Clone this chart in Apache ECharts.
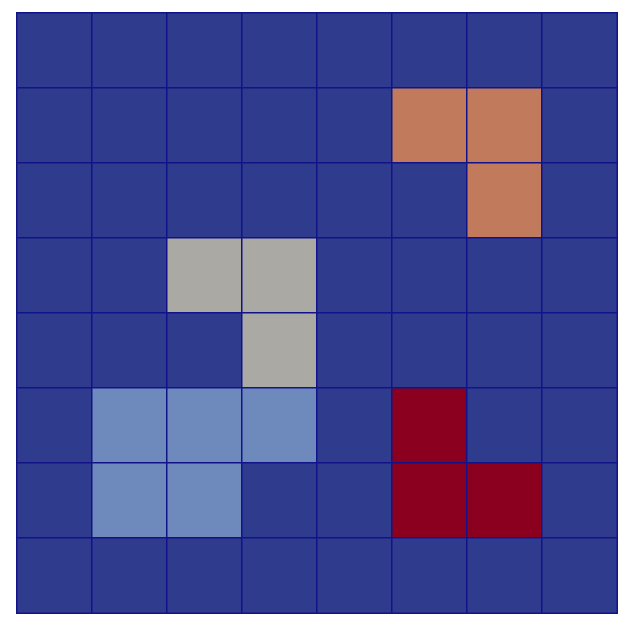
<!DOCTYPE html>
<html>
<head>
<meta charset="utf-8">
<script src="https://cdn.jsdelivr.net/npm/echarts@6/dist/echarts.min.js"></script>
<style>html,body{margin:0;padding:0;background:#fff;}#c{width:635px;height:627px;}</style>
</head>
<body>
<div id="c"></div>
<script>
const xCats = ['0','1','2','3','4','5','6','7'];
const yCats = ['0','1','2','3','4','5','6','7'];
// grid values, row 0 = top row
const row0 = [0,0,0,0,0,0,0,0];
const row1 = [0,0,0,0,0,3,3,0];
const row2 = [0,0,0,0,0,0,3,0];
const row3 = [0,0,2,2,0,0,0,0];
const row4 = [0,0,0,2,0,0,0,0];
const row5 = [0,1,1,1,0,4,0,0];
const row6 = [0,1,1,0,0,4,4,0];
const row7 = [0,0,0,0,0,0,0,0];
const rows = [row0,row1,row2,row3,row4,row5,row6,row7];
const levelColors = ['#2f3b8d','#6e8abd','#aba9a3','#c17a5b','#8a001e'];

const data = [];
rows.forEach((r, yi) => r.forEach((v, xi) => data.push([xi, yi, v])));

const chart = echarts.init(document.getElementById('c'));
chart.setOption({
  animation: false,
  grid: {left: 17, top: 13, right: 18, bottom: 14},
  xAxis: {type: 'category', data: xCats, show: false},
  yAxis: {type: 'category', data: yCats, inverse: true, show: false},
  visualMap: {
    show: false, type: 'piecewise', dimension: 2,
    pieces: levelColors.map((c, i) => ({value: i, color: c}))
  },
  series: [{
    type: 'heatmap',
    data: data,
    itemStyle: {borderColor: '#12128a', borderWidth: 1.5},
    emphasis: {disabled: true}
  }]
});
</script>
</body>
</html>
